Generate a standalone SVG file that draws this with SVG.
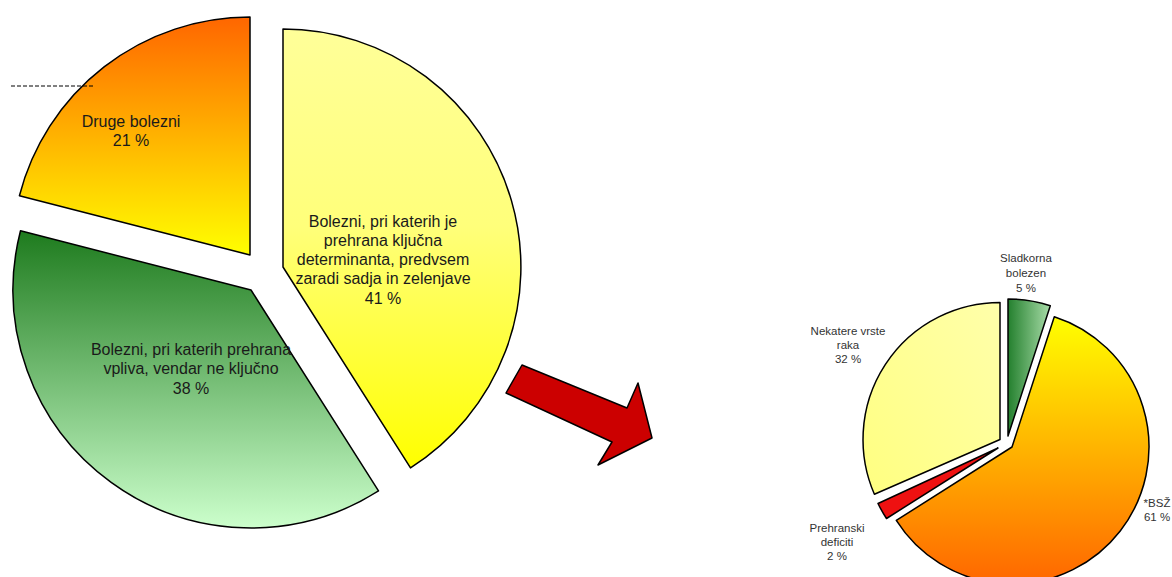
<svg xmlns="http://www.w3.org/2000/svg" width="1172" height="577" viewBox="0 0 1172 577">
  <style>
    .slice { stroke: #000; stroke-width: 1.5; stroke-linejoin: round; }
    .big { font-family: "Liberation Sans", Arial, sans-serif; font-size: 16px; fill: #1a1a1a; text-anchor: middle; }
    .small { font-family: "Liberation Sans", Arial, sans-serif; font-size: 11.5px; fill: #333; text-anchor: middle; }
  </style>
  <defs>
    <linearGradient id="gOrangeBig" x1="0" y1="0" x2="0" y2="1">
      <stop offset="0" stop-color="#FF6600"/>
      <stop offset="1" stop-color="#FFFF00"/>
    </linearGradient>
    <linearGradient id="gYellowBig" x1="0" y1="0" x2="0" y2="1">
      <stop offset="0" stop-color="#FFFF99"/>
      <stop offset="0.45" stop-color="#FFFF7A"/>
      <stop offset="1" stop-color="#FFFF00"/>
    </linearGradient>
    <linearGradient id="gGreenBig" x1="0" y1="0" x2="0" y2="1">
      <stop offset="0" stop-color="#1E7B1E"/>
      <stop offset="1" stop-color="#CCFFCC"/>
    </linearGradient>
    <linearGradient id="gYellowSmall" x1="0" y1="1" x2="1" y2="0">
      <stop offset="0" stop-color="#FFFF80"/>
      <stop offset="1" stop-color="#FFFFAA"/>
    </linearGradient>
    <linearGradient id="gGreenSmall" x1="0" y1="0" x2="1" y2="0">
      <stop offset="0" stop-color="#24802E"/>
      <stop offset="1" stop-color="#A8DCA8"/>
    </linearGradient>
    <linearGradient id="gOrangeSmall" x1="0" y1="0" x2="0" y2="1">
      <stop offset="0" stop-color="#FFFF00"/>
      <stop offset="1" stop-color="#FF6600"/>
    </linearGradient>
  </defs>

  <!-- Big pie -->
  <g id="druge-bolezni">
    <path class="slice" fill="url(#gOrangeBig)" d="M250,255 L19.4,195.8 A238,238 0 0,1 250,17 Z"/>
    <text class="big" x="131" y="127">Druge bolezni</text>
    <text class="big" x="131" y="146">21 %</text>
  </g>
  <g id="kljucna-determinanta">
    <path class="slice" fill="url(#gYellowBig)" d="M283,267 L283,29 A238,238 0 0,1 410.5,467.9 Z"/>
    <text class="big" x="383" y="226.5">Bolezni, pri katerih je</text>
    <text class="big" x="383" y="245.8">prehrana ključna</text>
    <text class="big" x="383" y="265">determinanta, predvsem</text>
    <text class="big" x="383" y="284.3">zaradi sadja in zelenjave</text>
    <text class="big" x="383" y="303.5">41 %</text>
  </g>
  <g id="vpliva-ne-kljucno">
    <path class="slice" fill="url(#gGreenBig)" d="M251,290 L378.5,490.9 A238,238 0 0,1 20.5,230.8 Z"/>
    <text class="big" x="191" y="354.5">Bolezni, pri katerih prehrana</text>
    <text class="big" x="191" y="374">vpliva, vendar ne ključno</text>
    <text class="big" x="191" y="393.5">38 %</text>
  </g>

  <line x1="11" y1="86" x2="93" y2="86" stroke="#000" stroke-width="1" stroke-dasharray="4,2"/>

  <!-- Connector arrow -->
  <g id="connectors">
    <polygon class="slice" fill="#CC0000" points="522,365 627,408 638,383 652,438 598,465 612,442 506,393"/>
  </g>

  <!-- Small pie -->
  <g id="nekatere-vrste-raka">
    <path class="slice" fill="url(#gYellowSmall)" d="M1000,439.5 L874.4,494.2 A137,137 0 0,1 1000,302.5 Z"/>
    <text class="small" x="848" y="335">Nekatere vrste</text>
    <text class="small" x="848" y="349">raka</text>
    <text class="small" x="848" y="363">32 %</text>
  </g>
  <g id="sladkorna-bolezen">
    <path class="slice" fill="url(#gGreenSmall)" d="M1008,436 L1008,299 A137,137 0 0,1 1050.3,305.7 Z"/>
    <text class="small" x="1026" y="262">Sladkorna</text>
    <text class="small" x="1026" y="277">bolezen</text>
    <text class="small" x="1026" y="292">5 %</text>
  </g>
  <g id="bsz">
    <path class="slice" fill="url(#gOrangeSmall)" d="M1012,447 L1054.3,316.7 A137,137 0 1,1 896.3,520.4 Z"/>
    <text class="small" x="1157" y="507">*BSŽ</text>
    <text class="small" x="1157" y="521">61 %</text>
  </g>
  <g id="prehranski-deficiti">
    <path class="slice" fill="#EE1111" d="M998,448 L886.5,518.5 A132,132 0 0,1 878,503.5 Z"/>
    <text class="small" x="837" y="532">Prehranski</text>
    <text class="small" x="837" y="546">deficiti</text>
    <text class="small" x="837" y="560">2 %</text>
  </g>
</svg>
